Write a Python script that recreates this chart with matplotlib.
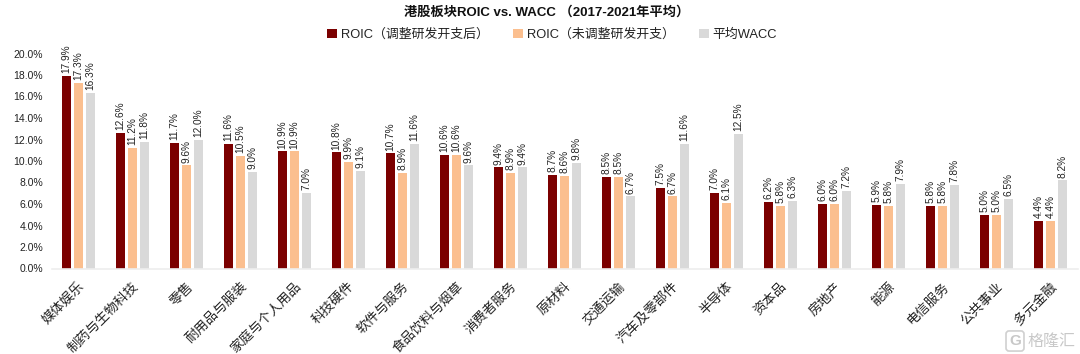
import matplotlib
matplotlib.use("Agg")
import matplotlib.pyplot as plt
import numpy as np

plt.rcParams['font.family'] = ['Liberation Sans', 'Noto Sans CJK SC', 'DejaVu Sans']

categories = ["媒体娱乐", "制药与生物科技", "零售", "耐用品与服装", "家庭与个人用品", "科技硬件",
              "软件与服务", "食品饮料与烟草", "消费者服务", "原材料", "交通运输", "汽车及零部件",
              "半导体", "资本品", "房地产", "能源", "电信服务", "公共事业", "多元金融"]
roic_adj = [17.9, 12.6, 11.7, 11.6, 10.9, 10.8, 10.7, 10.6, 9.4, 8.7, 8.5, 7.5, 7.0, 6.2, 6.0, 5.9, 5.8, 5.0, 4.4]
roic_raw = [17.3, 11.2, 9.6, 10.5, 10.9, 9.9, 8.9, 10.6, 8.9, 8.6, 8.5, 6.7, 6.1, 5.8, 6.0, 5.8, 5.8, 5.0, 4.4]
wacc = [16.3, 11.8, 12.0, 9.0, 7.0, 9.1, 11.6, 9.6, 9.4, 9.8, 6.7, 11.6, 12.5, 6.3, 7.2, 7.9, 7.8, 6.5, 8.2]

W, H = 1080, 354
fig = plt.figure(figsize=(W / 100, H / 100), dpi=100)
ax = fig.add_axes([51.5 / W, 1 - 268.5 / H, 1026 / W, 215 / H])

x = np.arange(len(categories))
series = [(roic_adj, "#7B0000", "ROIC（调整研发开支后）"),
          (roic_raw, "#FBBF8F", "ROIC（未调整研发开支）"),
          (wacc, "#D9D9D9", "平均WACC")]
for i, (vals, color, label) in enumerate(series):
    bars = ax.bar(x + (i - 1) * 0.222, vals, 0.18, color=color, label=label)
    ax.bar_label(bars, labels=[f"{v:.1f}%" for v in vals], rotation=90, padding=2,
                 fontsize=7.3, color="#222222")

ax.set_xlim(-0.5, 18.5)
ax.set_ylim(0, 20)
ax.set_yticks(np.arange(0, 21, 2))
ax.set_yticklabels([f"{v:.1f}%" for v in np.arange(0, 21, 2)], fontsize=7.5, color="#222222")
ax.set_xticks(x)
ax.set_xticklabels(categories, rotation=45, ha="right", va="top", rotation_mode="anchor",
                   fontsize=9.6, color="#222222")
ax.tick_params(axis="y", length=0, pad=6)
ax.tick_params(axis="x", length=0, pad=8.5)
for s in ["top", "right", "left"]:
    ax.spines[s].set_visible(False)
ax.spines["bottom"].set_color("#EEEEEE")
ax.spines["bottom"].set_linewidth(1.2)

fig.text(547 / W, 1 - 12 / H, "港股板块ROIC vs. WACC （2017-2021年平均）", ha="center", va="center",
         fontsize=9.5, fontweight="bold", color="#111111")
fig.legend(loc="center", bbox_to_anchor=(552 / W, 1 - 35 / H), ncol=3, frameon=False, fontsize=9.3,
           handlelength=0.75, handleheight=0.75, handletextpad=0.3, columnspacing=1.9, labelcolor="#222222")

# watermark
fig.text(1015 / W, 1 - 341 / H, "G", ha="center", va="center", fontsize=11, fontweight="bold", color="#C8C8C8",
         bbox=dict(boxstyle="round,pad=0.2", fc="none", ec="#D0D0D0", lw=1.2))
fig.text(1051 / W, 1 - 341 / H, "格隆汇", ha="center", va="center", fontsize=11.5, color="#C8C8C8")

fig.savefig("out.png", dpi=100)
